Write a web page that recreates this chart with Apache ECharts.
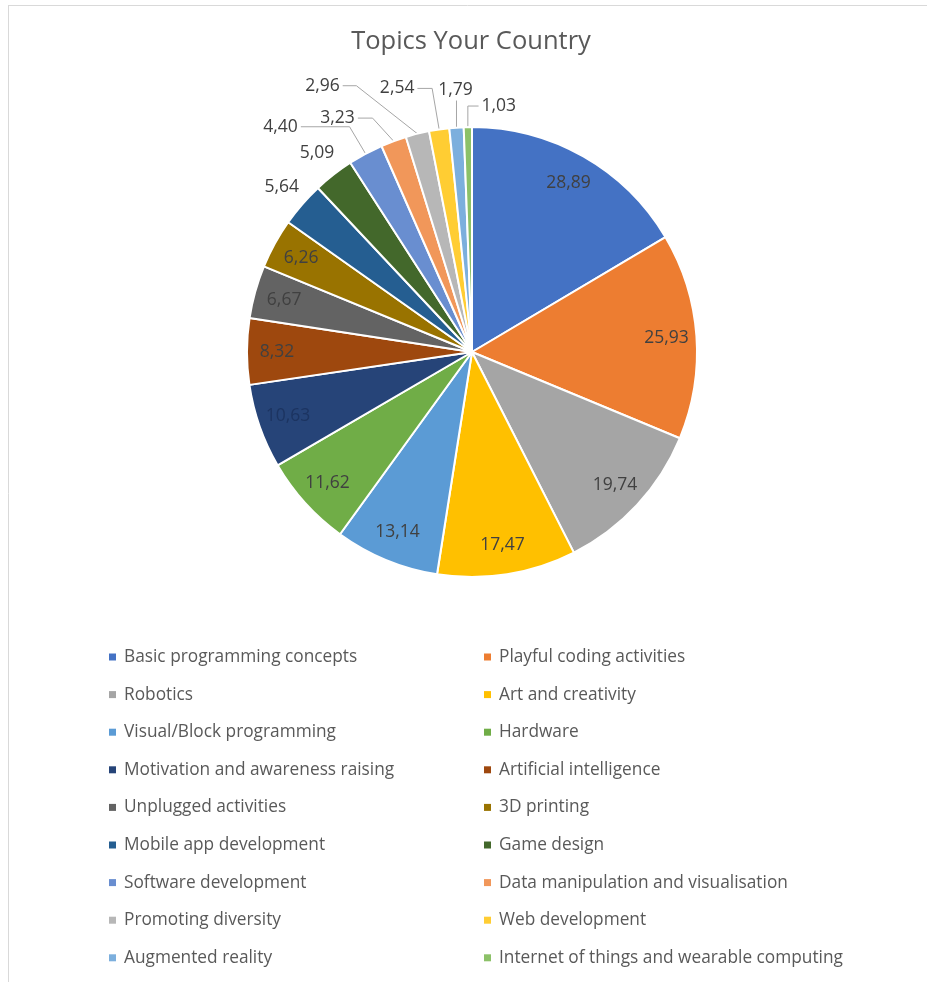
<!DOCTYPE html>
<html>
<head>
<meta charset="utf-8">
<title>Topics Your Country</title>
<script src="https://cdn.jsdelivr.net/npm/echarts@6/dist/echarts.min.js"></script>
<style>
  html, body { margin: 0; padding: 0; background: #ffffff; }
  #chart { width: 927px; height: 982px; }
</style>
</head>
<body>
<div id="chart"></div>
<script>
// Topic shares (%), clockwise from twelve o'clock
const topics = [
  'Basic programming concepts', 'Playful coding activities',
  'Robotics', 'Art and creativity',
  'Visual/Block programming', 'Hardware',
  'Motivation and awareness raising', 'Artificial intelligence',
  'Unplugged activities', '3D printing',
  'Mobile app development', 'Game design',
  'Software development', 'Data manipulation and visualisation',
  'Promoting diversity', 'Web development',
  'Augmented reality', 'Internet of things and wearable computing'
];
const shares = [
  28.89, 25.93, 19.74, 17.47, 13.14, 11.62, 10.63, 8.32, 6.67,
  6.26, 5.64, 5.09, 4.40, 3.23, 2.96, 2.54, 1.79, 1.03
];
const sliceColors = [
  '#4472C4', '#ED7D31', '#A5A5A5', '#FFC000', '#5B9BD5', '#70AD47',
  '#264478', '#9E480E', '#636363', '#997300', '#255E91', '#43682B',
  '#698ED0', '#F1975A', '#B7B7B7', '#FFCD33', '#7CAFDD', '#8CC168'
];

// Pie geometry (px)
const CX = 472, CY = 352, R = 225;
const INSIDE_R = 195;   // radius of the in-slice value labels
const RIM_R = 252;      // radius of the labels sitting just off the rim
const FONT = '"Open Sans", "Noto Sans", sans-serif';

// the first slices carry their value inside; the next two just off the rim
const insideCount = 10;
// small slices get callouts: label centre offset from the rim point and elbow offset
const callouts = {
  12: { dx: -85, dy: -27, elbow: -16 },
  13: { dx: -56, dy: -23, elbow: -21 },
  14: { dx: -95, dy: -48, elbow: -61 },
  15: { dx: -42, dy: -41, elbow: -7 },
  16: { dx: -1,  dy: -38, kind: 'up' },
  17: { dx: 31,  dy: -21, kind: 'right' }
};

// mid angle of every slice, clockwise from the top (same order as the pie draws)
const total = shares.reduce((a, b) => a + b, 0);
const midAngle = [];
let acc = 0;
shares.forEach(v => { midAngle.push((acc + v / 2) / total * Math.PI * 2); acc += v; });
function polar(i, r) {
  return [CX + r * Math.sin(midAngle[i]), CY - r * Math.cos(midAngle[i])];
}
const fmt = v => v.toFixed(2).replace('.', ',');

const pieData = topics.map((name, i) => {
  const label = { position: i < insideCount ? 'inside' : 'outside' };
  // the label on the darkest slice keeps the automatic dark text, nearly lost on navy
  if (sliceColors[i] === '#264478') label.color = '#1c3461';
  return {
    name: name,
    value: shares[i],
    itemStyle: { color: sliceColors[i] },
    label: label,
    labelLine: { show: callouts[i] !== undefined }
  };
});

const legendBase = {
  orient: 'vertical',
  top: 647,
  padding: 0,
  itemWidth: 7,
  itemHeight: 7,
  itemGap: 17.6,
  icon: 'rect',
  selectedMode: false,
  itemStyle: { borderWidth: 0 },
  textStyle: {
    fontFamily: FONT, fontSize: 17.3, color: '#595959',
    lineHeight: 20, padding: [0, 0, 0, 3]
  }
};

const chart = echarts.init(document.getElementById('chart'), null, { renderer: 'canvas' });
chart.setOption({
  animation: false,
  backgroundColor: '#ffffff',
  title: {
    text: 'Topics Your Country',
    left: 471,
    top: 29,
    padding: 0,
    textAlign: 'center',
    textStyle: { fontFamily: FONT, fontSize: 25.5, fontWeight: 'normal', color: '#595959' }
  },
  legend: [
    Object.assign({}, legendBase, { left: 109, data: topics.filter((_, i) => i % 2 === 0) }),
    Object.assign({}, legendBase, { left: 484, data: topics.filter((_, i) => i % 2 === 1) })
  ],
  graphic: [
    { type: 'line', silent: true, shape: { x1: 8, y1: 5.5, x2: 927, y2: 5.5 },
      style: { stroke: '#d9d9d9', lineWidth: 1 } },
    { type: 'line', silent: true, shape: { x1: 8.5, y1: 5, x2: 8.5, y2: 982 },
      style: { stroke: '#d9d9d9', lineWidth: 1 } }
  ],
  series: [{
    type: 'pie',
    center: [CX, CY],
    radius: R,
    startAngle: 90,
    clockwise: true,
    avoidLabelOverlap: false,
    data: pieData,
    itemStyle: { borderColor: '#ffffff', borderWidth: 2 },
    emphasis: { disabled: true },
    label: {
      show: true,
      formatter: p => fmt(p.value),
      fontFamily: FONT,
      fontSize: 17.5,
      color: '#404040'
    },
    labelLine: {
      length: 10,
      length2: 10,
      lineStyle: { color: '#a6a6a6', width: 1 }
    },
    labelLayout: function (p) {
      const i = p.dataIndex;
      const w = p.labelRect.width, h = p.labelRect.height;
      if (i < insideCount || !callouts[i]) {
        const pt = polar(i, i < insideCount ? INSIDE_R : RIM_R);
        return { x: pt[0], y: pt[1], align: 'center', verticalAlign: 'middle' };
      }
      const c = callouts[i];
      const p0 = polar(i, R);
      const lx = p0[0] + c.dx, ly = p0[1] + c.dy;
      let pts;
      if (c.kind === 'up') {
        const end = [p0[0], ly + h / 2 + 2];
        pts = [p0, end, end];
      } else if (c.kind === 'right') {
        pts = [p0, [p0[0], ly], [lx - w / 2 - 3, ly]];
      } else {
        pts = [p0, [p0[0] + c.elbow, ly], [lx + w / 2 + 3, ly]];
      }
      return { x: lx, y: ly, align: 'center', verticalAlign: 'middle', labelLinePoints: pts };
    }
  }]
});
</script>
</body>
</html>
